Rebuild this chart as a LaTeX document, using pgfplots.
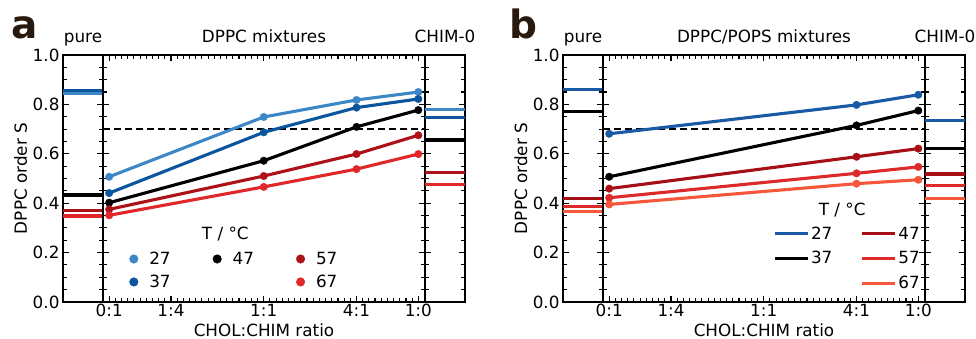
\documentclass[border=0pt]{standalone}
\usepackage{pgfplots}
\pgfplotsset{compat=1.18}
\usepackage{fontspec}
\setmainfont{DejaVu Sans}
\definecolor{aA}{HTML}{3D87C6}
\definecolor{aB}{HTML}{0B559F}
\definecolor{aD}{HTML}{AD1219}
\definecolor{aE}{HTML}{E0282A}
\definecolor{bA}{HTML}{1A5AA5}
\definecolor{bC}{HTML}{A50F15}
\definecolor{bD}{HTML}{DC2A2A}
\definecolor{bE}{HTML}{F6573A}
\definecolor{lab}{RGB}{40,25,15}
\pgfplotsset{
  base/.style={
    scale only axis, height=247pt, ymin=0, ymax=1,
    font=\fontsize{16.8}{20}\selectfont,
    /pgf/number format/assume math mode=true,
    axis line style={line width=1.4pt, black},
    tick style={line width=1.1pt, black},
    tick align=inside,
    major tick length=6pt, minor tick length=4pt,
    ytick={0,0.2,0.4,0.6,0.8,1.0},
    minor y tick num=3,
    title style={at={(0.5,1)}, anchor=base, yshift=6.5pt},
  },
  side/.style={base, width=40pt, xmin=0, xmax=1, xtick=\empty, yticklabels={}},
  mainax/.style={base, width=322pt, xmin=-0.02, xmax=1.0216,
    xtick={0,0.2,0.5,0.8,1}, xticklabels={0:1,1:4,1:1,4:1,1:0},
    minor xtick={0,0.02,...,1.02}, yticklabels={},
    xticklabel style={anchor=base, yshift=-14.5pt},
    xlabel={CHOL:CHIM ratio},
    xlabel style={at={(axis description cs:0.5,0)}, anchor=base, yshift=-34.5pt}},
  pl/.style={line width=3.1pt, mark=*, mark size=3.8pt, mark options={line width=0.3pt}, forget plot},
  hl/.style={line width=3.1pt, forget plot},
  dotleg/.style={legend image code/.code={\fill[##1] (0pt,0pt) circle[radius=4.3pt];}},
  lineleg/.style={legend image code/.code={\draw[##1, line width=3pt] (0pt,0pt) -- (33pt,0pt);}},
}
\begin{document}
\begin{tikzpicture}
\path[use as bounding box] (0,0) rectangle (976pt,339pt);
% ---------------- panel a ----------------
\node[anchor=base west, inner sep=0pt, font=\fontsize{39}{40}\selectfont\bfseries, text=lab] at (11.7pt,300.5pt) {a};
\begin{axis}[side, at={(63pt,37pt)}, anchor=south west, title={pure},
  yticklabels={0.0,0.2,0.4,0.6,0.8,1.0},
  ylabel={DPPC order S}, ylabel style={at={(axis description cs:-0.9,0.5)}, anchor=base}]
\addplot[hl, aB] coordinates {(0,0.855) (1,0.855)};
\addplot[hl, aA] coordinates {(0,0.843) (1,0.843)};
\addplot[hl, black] coordinates {(0,0.433) (1,0.433)};
\addplot[hl, aD] coordinates {(0,0.370) (1,0.370)};
\addplot[hl, aE] coordinates {(0,0.348) (1,0.348)};
\end{axis}
\begin{axis}[mainax, at={(103pt,37pt)}, anchor=south west, title={DPPC mixtures},
  legend columns=3, legend cell align=left,
  legend style={draw=none, fill=none, at={(0.0817,0.2024)}, anchor=north west,
    inner sep=0pt, outer sep=0pt, row sep=9pt, nodes={inner sep=0pt},
    /tikz/every odd column/.append style={column sep=11pt},
    /tikz/every even column/.append style={column sep=42pt}}]
\addplot[line width=2.1pt, dash pattern=on 7pt off 4pt, black, forget plot] coordinates {(-0.02,0.70) (1.0216,0.70)};
\addplot[pl, aA] coordinates {(0,0.507) (0.5,0.749) (0.8,0.818) (1,0.850)};
\addplot[pl, aB] coordinates {(0,0.441) (0.5,0.687) (0.8,0.787) (1,0.822)};
\addplot[pl, black] coordinates {(0,0.402) (0.5,0.572) (0.8,0.709) (1,0.777)};
\addplot[pl, aD] coordinates {(0,0.375) (0.5,0.510) (0.8,0.599) (1,0.675)};
\addplot[pl, aE] coordinates {(0,0.351) (0.5,0.466) (0.8,0.538) (1,0.599)};
\addlegendimage{dotleg, aA}\addlegendentry{27}
\addlegendimage{dotleg, black}\addlegendentry{47}
\addlegendimage{dotleg, aD}\addlegendentry{57}
\addlegendimage{dotleg, aB}\addlegendentry{37}
\addlegendimage{empty legend}\addlegendentry{}
\addlegendimage{dotleg, aE}\addlegendentry{67}
\node[anchor=base] at (rel axis cs:0.380,0.254) {T / °C};
\end{axis}
\begin{axis}[side, at={(425pt,37pt)}, anchor=south west, title={CHIM-0}]
\addplot[hl, aA] coordinates {(0,0.781) (1,0.781)};
\addplot[hl, aB] coordinates {(0,0.748) (1,0.748)};
\addplot[hl, black] coordinates {(0,0.656) (1,0.656)};
\addplot[hl, aD] coordinates {(0,0.525) (1,0.525)};
\addplot[hl, aE] coordinates {(0,0.476) (1,0.476)};
\end{axis}
% ---------------- panel b ----------------
\node[anchor=base west, inner sep=0pt, font=\fontsize{39}{40}\selectfont\bfseries, text=lab] at (509.5pt,300.5pt) {b};
\begin{axis}[side, at={(563pt,37pt)}, anchor=south west, title={pure},
  yticklabels={0.0,0.2,0.4,0.6,0.8,1.0},
  ylabel={DPPC order S}, ylabel style={at={(axis description cs:-0.9,0.5)}, anchor=base}]
\addplot[hl, bA] coordinates {(0,0.861) (1,0.861)};
\addplot[hl, black] coordinates {(0,0.773) (1,0.773)};
\addplot[hl, bC] coordinates {(0,0.420) (1,0.420)};
\addplot[hl, bD] coordinates {(0,0.386) (1,0.386)};
\addplot[hl, bE] coordinates {(0,0.366) (1,0.366)};
\end{axis}
\begin{axis}[mainax, at={(603pt,37pt)}, anchor=south west, title={DPPC/POPS mixtures},
  legend columns=2, legend cell align=left,
  legend style={draw=none, fill=none, at={(0.528,0.305)}, anchor=north west,
    inner sep=0pt, outer sep=0pt, row sep=10.8pt, nodes={inner sep=0pt},
    /tikz/every odd column/.append style={column sep=2pt},
    /tikz/every even column/.append style={column sep=28pt}}]
\addplot[line width=2.1pt, dash pattern=on 7pt off 4pt, black, forget plot] coordinates {(-0.02,0.70) (1.0216,0.70)};
\addplot[pl, bA] coordinates {(0,0.681) (0.8,0.798) (1,0.839)};
\addplot[pl, black] coordinates {(0,0.507) (0.8,0.715) (1,0.775)};
\addplot[pl, bC] coordinates {(0,0.459) (0.8,0.588) (1,0.621)};
\addplot[pl, bD] coordinates {(0,0.422) (0.8,0.521) (1,0.547)};
\addplot[pl, bE] coordinates {(0,0.395) (0.8,0.479) (1,0.495)};
\addlegendimage{lineleg, bA}\addlegendentry{27}
\addlegendimage{lineleg, bC}\addlegendentry{47}
\addlegendimage{lineleg, black}\addlegendentry{37}
\addlegendimage{lineleg, bD}\addlegendentry{57}
\addlegendimage{empty legend}\addlegendentry{}
\addlegendimage{lineleg, bE}\addlegendentry{67}
\node[anchor=base] at (rel axis cs:0.743,0.352) {T / °C};
\end{axis}
\begin{axis}[side, at={(925pt,37pt)}, anchor=south west, title={CHIM-0}]
\addplot[hl, bA] coordinates {(0,0.733) (1,0.733)};
\addplot[hl, black] coordinates {(0,0.622) (1,0.622)};
\addplot[hl, bC] coordinates {(0,0.518) (1,0.518)};
\addplot[hl, bD] coordinates {(0,0.470) (1,0.470)};
\addplot[hl, bE] coordinates {(0,0.420) (1,0.420)};
\end{axis}
\end{tikzpicture}
\end{document}
